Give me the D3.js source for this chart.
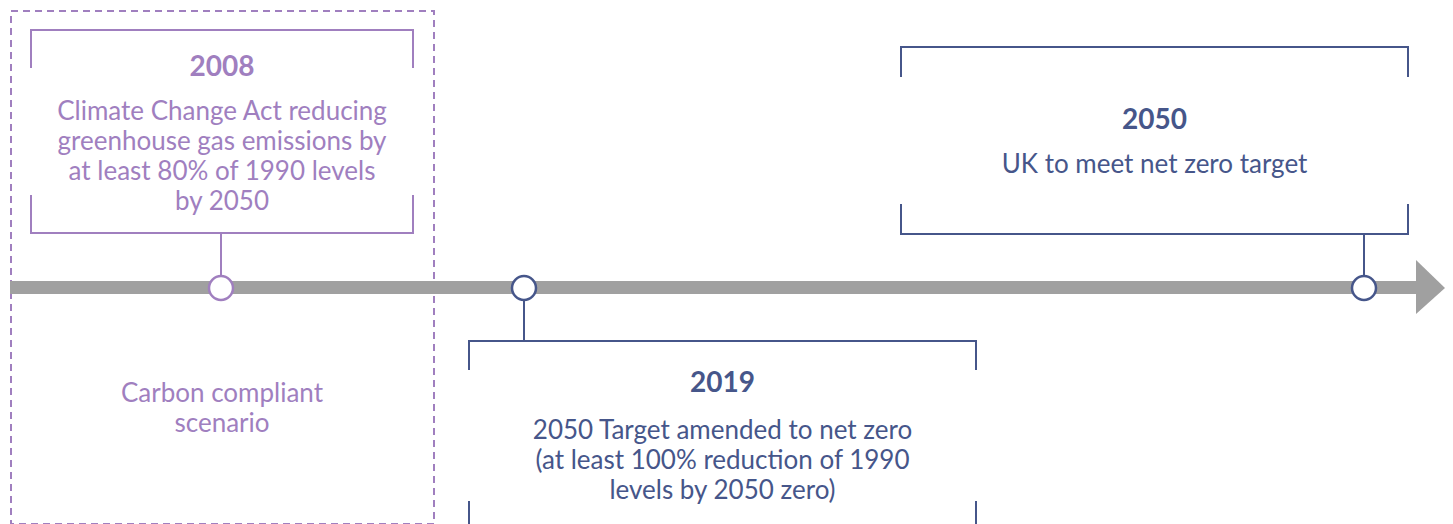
<!DOCTYPE html>
<html><head><meta charset="utf-8">
<script src="https://cdn.jsdelivr.net/npm/d3@7"></script>
<style>html,body{margin:0;padding:0;background:#fff;}svg{display:block;}</style>
</head><body>
<svg id="chart" width="1453" height="524"></svg>
<script>
const years = [2008, 2019, 2050];
const titles = ["2008", "2019", "2050"];
const descriptions = [
  ["Climate Change Act reducing", "greenhouse gas emissions by", "at least 80% of 1990 levels", "by 2050"],
  ["2050 Target amended to net zero", "(at least 100% reduction of 1990", "levels by 2050 zero)"],
  ["UK to meet net zero target"]
];
const sides = ["above", "below", "above"];
const scenarioLabel = ["Carbon compliant", "scenario"];

const PURPLE = "#a07fbf", BLUE = "#46568a", GREY = "#a0a0a0";
const colors = [PURPLE, BLUE, BLUE];
const FONT = "Lato, 'Open Sans', sans-serif";

const svg = d3.select("#chart");
const x = d3.scaleLinear().domain([2008, 2019, 2050]).range([221, 524, 1364]);
const axisY = 288;

// scenario dashed box
svg.append("rect").attr("x", 11).attr("y", 11).attr("width", 423).attr("height", 513)
  .attr("fill", "none").attr("stroke", PURPLE).attr("stroke-width", 2).attr("stroke-dasharray", "7,5");
svg.append("text").attr("x", 222).attr("y", 402).attr("text-anchor", "middle")
  .attr("font-family", FONT).attr("font-size", 26).attr("fill", PURPLE)
  .selectAll("tspan").data(scenarioLabel).join("tspan")
  .attr("x", 222).attr("dy", (d, i) => i ? 30 : 0).text(d => d);

// timeline bar and arrow
svg.append("rect").attr("x", 10).attr("y", axisY - 7).attr("width", 1408).attr("height", 13).attr("fill", GREY);
svg.append("path").attr("d", `M1416,${axisY - 28}L1445,${axisY}L1416,${axisY + 26}Z`).attr("fill", GREY);

// bracket layouts per event
const layout = [
  {x0: 31, x1: 413, top: 30, bot: 233, tick: 38, titleY: 76, textY: 120},
  {x0: 469, x1: 976, top: 341, bot: 530, tick: 29, titleY: 392, textY: 439},
  {x0: 901, x1: 1408, top: 47, bot: 234, tick: 30, titleY: 129, textY: 173}
];

years.forEach((yr, i) => {
  const L = layout[i], c = colors[i], cx = x(yr);
  const g = svg.append("g");
  g.append("path").attr("d", `M${L.x0},${L.top + L.tick}V${L.top}H${L.x1}V${L.top + L.tick}`)
    .attr("fill", "none").attr("stroke", c).attr("stroke-width", 2);
  g.append("path").attr("d", `M${L.x0},${L.bot - L.tick}V${L.bot}H${L.x1}V${L.bot - L.tick}`)
    .attr("fill", "none").attr("stroke", c).attr("stroke-width", 2);
  if (sides[i] === "above") {
    g.append("line").attr("x1", cx).attr("x2", cx).attr("y1", L.bot).attr("y2", axisY)
      .attr("stroke", c).attr("stroke-width", 2);
  } else {
    g.append("line").attr("x1", cx).attr("x2", cx).attr("y1", axisY).attr("y2", L.top)
      .attr("stroke", c).attr("stroke-width", 2);
  }
  g.append("circle").attr("cx", cx).attr("cy", axisY).attr("r", 12)
    .attr("fill", "#fff").attr("stroke", c).attr("stroke-width", 2.5);
  const mid = (L.x0 + L.x1) / 2;
  g.append("text").attr("x", mid).attr("y", L.titleY).attr("text-anchor", "middle")
    .attr("font-family", FONT).attr("font-weight", 700).attr("font-size", 28).attr("fill", c)
    .text(titles[i]);
  g.append("text").attr("y", L.textY).attr("text-anchor", "middle")
    .attr("font-family", FONT).attr("font-size", 26).attr("fill", c)
    .selectAll("tspan").data(descriptions[i]).join("tspan")
    .attr("x", mid).attr("dy", (d, j) => j ? 30 : 0).text(d => d);
});
</script>
</body></html>
